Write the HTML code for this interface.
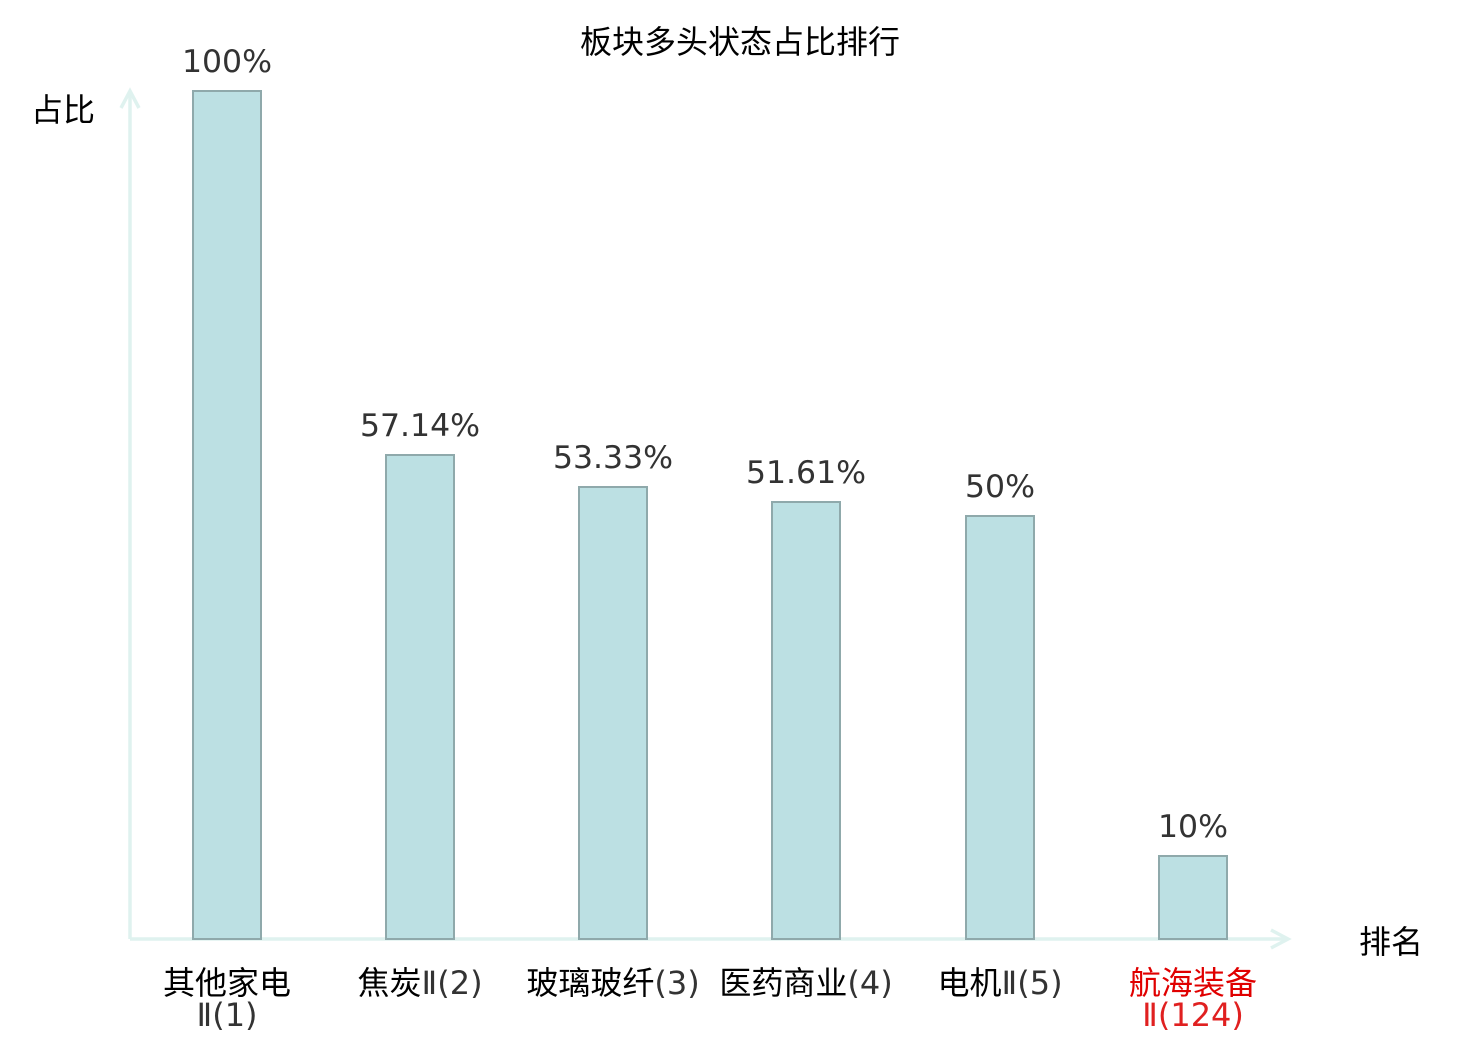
<!DOCTYPE html>
<html><head><meta charset="utf-8"><style>
body{margin:0;background:#fff;}
svg text{font-family:"DejaVu Sans","Noto Sans CJK SC",sans-serif;}
</style></head><body>
<svg width="1480" height="1040" xmlns="http://www.w3.org/2000/svg">
<rect width="1480" height="1040" fill="#fff"/>
<text x="740" y="53" font-size="32" text-anchor="middle" fill="#000">板块多头状态占比排行</text>
<text x="63" y="121" font-size="32" text-anchor="middle" fill="#000">占比</text>
<text x="1391" y="953" font-size="32" text-anchor="middle" fill="#000">排名</text>
<g stroke="#dff2ef" stroke-width="3.5" fill="none">
<line x1="130" y1="939" x2="130" y2="91"/>
<polyline points="121,108 130,91 139,108"/>
<line x1="130" y1="939" x2="1288" y2="939"/>
<polyline points="1271,930 1288,939 1271,948"/>
</g>
<g fill="#bce0e3" stroke="#8fa9ab" stroke-width="2">
<rect x="193" y="91" width="68" height="848"/>
<rect x="386" y="455" width="68" height="484"/>
<rect x="579" y="487" width="68" height="452"/>
<rect x="772" y="502" width="68" height="437"/>
<rect x="966" y="516" width="68" height="423"/>
<rect x="1159" y="856" width="68" height="83"/>
</g>
<g font-size="31.5" fill="#333" text-anchor="middle">
<text x="227" y="72">100%</text>
<text x="420" y="436">57.14%</text>
<text x="613" y="468">53.33%</text>
<text x="806" y="483">51.61%</text>
<text x="1000" y="497">50%</text>
<text x="1193" y="837">10%</text>
</g>
<g font-size="32" fill="#000" text-anchor="middle">
<text x="227" y="994">其他家电</text>
<text x="227" y="1026" fill="#333">Ⅱ(1)</text>
<text x="420" y="994">焦炭<tspan fill="#333">Ⅱ(2)</tspan></text>
<text x="613" y="994">玻璃玻纤<tspan fill="#333">(3)</tspan></text>
<text x="806" y="994">医药商业<tspan fill="#333">(4)</tspan></text>
<text x="1000" y="994">电机<tspan fill="#333">Ⅱ(5)</tspan></text>
<text x="1193" y="994" fill="#e00000">航海装备</text>
<text x="1193" y="1026" fill="#e02020">Ⅱ(124)</text>
</g>
</svg>
</body></html>
